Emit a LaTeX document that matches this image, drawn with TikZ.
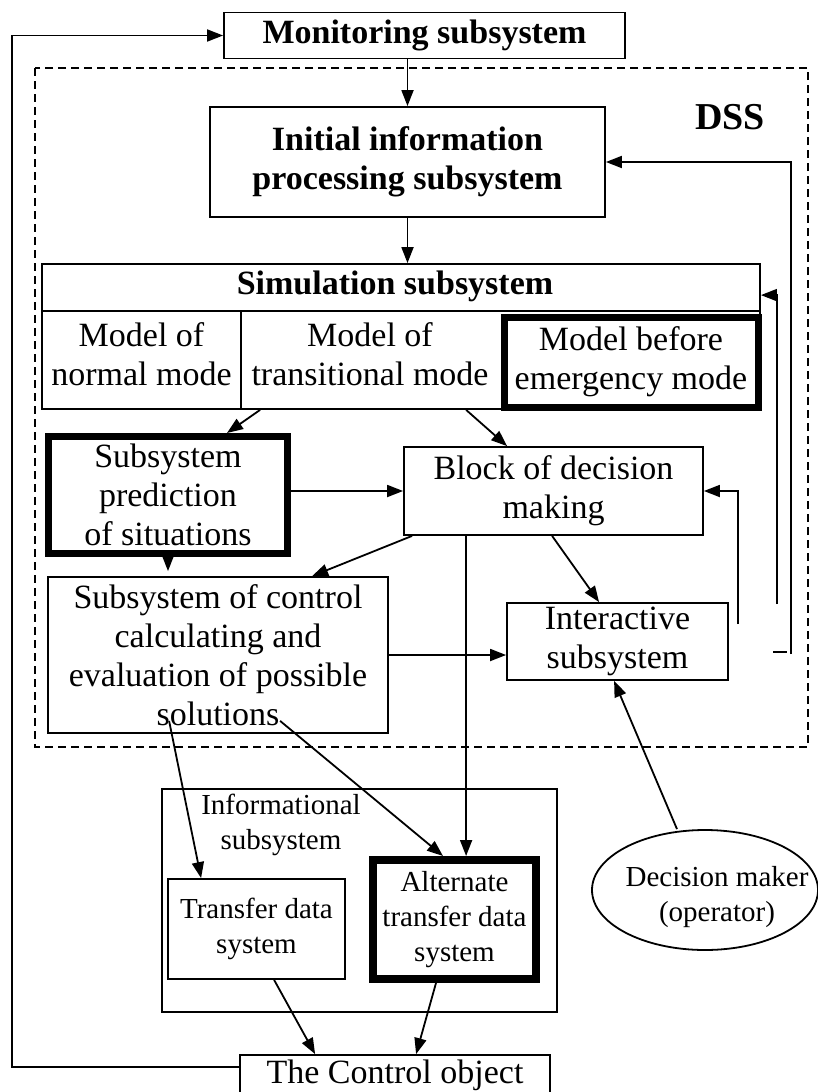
\documentclass[tikz,border=0pt]{standalone}
\usepackage{fontspec}
\setmainfont{Liberation Serif}
\usetikzlibrary{arrows.meta,calc,shapes.geometric}
\newcommand\fbig{\fontsize{34}{39}\selectfont}
\newcommand\fsml{\fontsize{29}{35}\selectfont}
\begin{document}
\begin{tikzpicture}[x=1pt,y=-1pt,
  box/.style={draw,line width=1.8pt,inner sep=0pt,align=center,font=\fbig},
  thickbox/.style={box,line width=7pt},
  txt/.style={inner sep=0pt,align=center,font=\fbig},
  arr/.style={line width=1.8pt,-{Triangle[length=16pt,width=12pt]}},
  ln/.style={line width=1.8pt}]
\useasboundingbox (0,0) rectangle (818,1092);
\clip (0,0) rectangle (818,1092);

% DSS container
\draw[ln,line width=1.5pt,dash pattern=on 8pt off 5pt] (35,68) rectangle (808,747);
\node[txt,font=\fontsize{38}{40}\selectfont\bfseries] (dsst) at (730,117) {DSS};

% nodes
\node[box,font=\fbig\bfseries,minimum width=401pt,minimum height=46pt] (mon) at (424.5,35.5) {Monitoring subsystem};
\node[box,font=\fbig\bfseries,minimum width=395pt,minimum height=110pt] (init) at (407.5,162) {Initial information\\processing subsystem};

\node[box,minimum width=718pt,minimum height=145pt] (sim) at (401,336.5) {};
\draw[ln] ([yshift=-48pt]sim.north west) -- ([yshift=-48pt]sim.north east);
\draw[ln] ([xshift=199.75pt,yshift=-48pt]sim.north west) -- ([xshift=199.75pt]sim.south west);
\node[txt,font=\fbig\bfseries] (simt) at (395,286) {Simulation subsystem};
\node[txt] (mnorm) at (141.5,354) {Model of\\normal mode};
\node[txt] (mtrans) at (370,354) {Model of\\transitional mode};
\node[thickbox,minimum width=254pt,minimum height=90pt] (emerg) at (631,362) {Model before\\emergency mode};

\node[thickbox,minimum width=239pt,minimum height=117pt] (pred) at (168,495) {Subsystem\\prediction\\of situations};
\node[box,minimum width=299pt,minimum height=88pt] (block) at (553.5,491) {Block of decision\\making};
\node[box,minimum width=340pt,minimum height=156pt] (ctrl) at (218,655) {Subsystem of control\\calculating and\\evaluation of possible\\solutions};
\node[box,minimum width=221pt,minimum height=77pt] (inter) at (617.5,641.5) {Interactive\\subsystem};

\node[box,minimum width=395pt,minimum height=223pt] (info) at (359.5,900.5) {};
\node[txt,font=\fsml] (infot) at (281,825) {Informational\\subsystem};
\node[box,font=\fsml,minimum width=177pt,minimum height=100pt] (trans) at (256.5,929) {Transfer data\\system};
\node[thickbox,font=\fsml,line width=8pt,minimum width=163pt,minimum height=119pt] (alt) at (454.5,919.5) {Alternate\\transfer data\\system};

\node[draw,ellipse,line width=1.8pt,inner sep=0pt,minimum width=226pt,minimum height=120pt] (dm) at (705,890) {};
\node[txt,font=\fsml] (dmt) at (717,897) {Decision maker\\(operator)};

\node[box,minimum width=310pt,minimum height=48pt] (cobj) at (395,1079) {};
\node[txt] (cobjt) at (395,1075) {The Control object};

% connectors
\coordinate (lc) at (12,35.5);
\draw[arr] ([yshift=-13pt]cobj.north west) -| (lc) -- (mon.west);
\draw[arr] (mon.south -| init.north) -- (init.north);
\draw[arr] (init.south) -- (init.south |- sim.north);

\coordinate (fa) at (791,654);
\coordinate (fb) at (777,604);
\coordinate (fc) at (738,624);
\coordinate (fd1) at (773,652);
\coordinate (fd2) at (787,652);
\draw[ln] (fd1) -- (fd2);
\draw[arr] (fa) |- (init.east);
\draw[arr] (fb) |- ([yshift=-32pt]sim.north east);
\draw[arr] (fc) |- (block.east);

\draw[arr] ([xshift=219pt]sim.south west) -- ([xshift=182pt]pred.north west);
\draw[arr] ([xshift=425pt]sim.south west) -- ([xshift=104pt]block.north west);
\draw[arr] (pred.east |- block.west) -- (block.west);
\draw[arr,shorten >=5pt] (pred.south) -- (pred.south |- ctrl.north);
\draw[arr] ([xshift=9pt]block.south west) -- ([xshift=265pt]ctrl.north west);
\draw[arr] ([xshift=149pt]block.south west) -- ([xshift=93pt]inter.north west);
\draw[arr] (ctrl.east) -- (ctrl.east -| inter.west);
\coordinate (bv) at ([xshift=63pt]block.south west);
\draw[arr] (bv) -- (bv |- alt.north);
\draw[arr] ([xshift=122pt,yshift=13pt]ctrl.south west) -- ([xshift=34pt]trans.north west);
\draw[arr] ([xshift=233pt,yshift=13pt]ctrl.south west) -- ([xshift=74pt]alt.north west);
\draw[arr] ([xshift=107pt]trans.south west) -- ([xshift=76pt]cobj.north west);
\draw[arr] ([xshift=67pt]alt.south west) -- ([xshift=177pt]cobj.north west);
\draw[arr] ([xshift=-28pt]dm.north) -- ([xshift=108pt]inter.south west);
\end{tikzpicture}
\end{document}
